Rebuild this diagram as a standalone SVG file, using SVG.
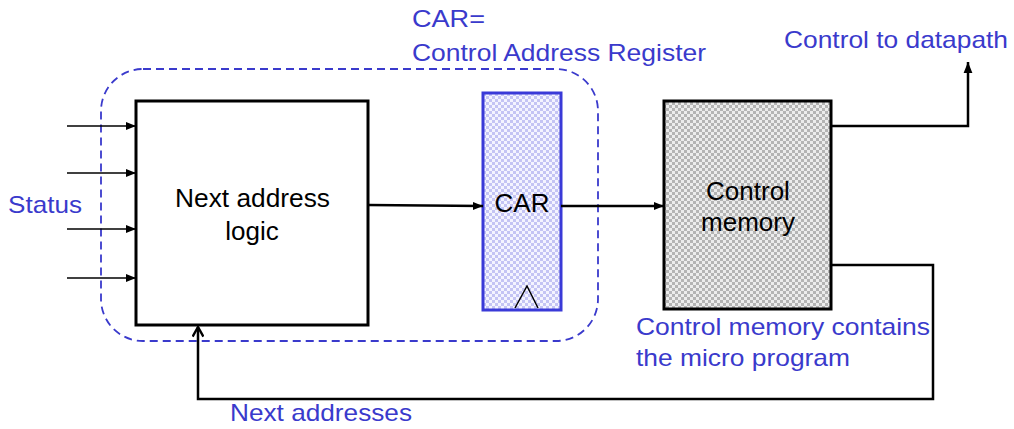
<svg xmlns="http://www.w3.org/2000/svg" width="1014" height="429" viewBox="0 0 1014 429">
  <defs>
    <style>
      .blue { font-family: "Liberation Sans", Arial, sans-serif; font-size: 24px; fill: #3a3acc; }
      .black { font-family: "Liberation Sans", Arial, sans-serif; font-size: 26px; fill: #000; }
      .box { stroke: #000; stroke-width: 3; }
      .wire { fill: none; stroke: #000; stroke-width: 2.5; }
      .thin { fill: none; stroke: #000; stroke-width: 1.5; }
    </style>
    <pattern id="checkBlue" width="6" height="6" patternUnits="userSpaceOnUse">
      <rect width="6" height="6" fill="#f4f4ff"/>
      <rect width="3" height="3" fill="#c4c4f4"/>
      <rect x="3" y="3" width="3" height="3" fill="#c4c4f4"/>
    </pattern>
    <pattern id="checkGray" width="6" height="6" patternUnits="userSpaceOnUse">
      <rect width="6" height="6" fill="#ececec"/>
      <rect width="3" height="3" fill="#b4b4b4"/>
      <rect x="3" y="3" width="3" height="3" fill="#b4b4b4"/>
    </pattern>
    <marker id="arrow" viewBox="0 0 10 10" refX="10" refY="5" markerWidth="10" markerHeight="10" markerUnits="userSpaceOnUse" orient="auto">
      <path d="M0,1 L10,5 L0,9 Z" fill="#000"/>
    </marker>
    <marker id="arrowBig" viewBox="0 0 10 10" refX="10" refY="5" markerWidth="11" markerHeight="11" markerUnits="userSpaceOnUse" orient="auto">
      <path d="M0,1 L10,5 L0,9 Z" fill="#000"/>
    </marker>
    <marker id="arrowOpen" viewBox="0 0 10 10" refX="9" refY="5" markerWidth="12" markerHeight="12" markerUnits="userSpaceOnUse" orient="auto">
      <path d="M1,0.5 L9,5 L1,9.5" fill="none" stroke="#000" stroke-width="2"/>
    </marker>
  </defs>

  <rect width="1014" height="429" fill="#fff"/>

  <!-- sequencer boundary -->
  <g id="sequencer">
    <rect x="101" y="69" width="497" height="272" rx="42" ry="42" fill="none" stroke="#3a3acc" stroke-width="1.8" stroke-dasharray="8,5"/>
    <text class="blue" x="193" y="134" textLength="123" lengthAdjust="spacingAndGlyphs">sequencer</text>
  </g>

  <!-- next address logic -->
  <g id="next-address-logic">
    <rect class="box" x="136" y="101" width="232" height="224" fill="#fff"/>
    <text class="black" x="175" y="207" textLength="155" lengthAdjust="spacingAndGlyphs">Next address</text>
    <text class="black" x="252" y="240" text-anchor="middle">logic</text>
  </g>

  <!-- control address register -->
  <g id="car">
    <rect x="483" y="93" width="78" height="217" fill="url(#checkBlue)" stroke="#3a3ad8" stroke-width="3"/>
    <polyline class="thin" points="515,308 527,286 538,308" stroke-width="2"/>
    <text class="black" x="522" y="212" text-anchor="middle">CAR</text>
  </g>

  <!-- control memory -->
  <g id="control-memory">
    <rect class="box" x="664" y="101" width="167" height="208" fill="url(#checkGray)"/>
    <text class="black" x="748" y="200" text-anchor="middle">Control</text>
    <text class="black" x="748" y="231" text-anchor="middle">memory</text>
  </g>

  <!-- connectors -->
  <g id="connectors">
    <line class="thin" x1="67" y1="126" x2="136" y2="126" marker-end="url(#arrow)"/>
    <line class="thin" x1="67" y1="173" x2="136" y2="173" marker-end="url(#arrow)"/>
    <line class="thin" x1="67" y1="229" x2="136" y2="229" marker-end="url(#arrow)"/>
    <line class="thin" x1="67" y1="278" x2="136" y2="278" marker-end="url(#arrow)"/>
    <line class="wire" x1="368" y1="205" x2="483" y2="206" stroke-width="2" marker-end="url(#arrow)"/>
    <line class="wire" x1="561" y1="206" x2="664" y2="206" stroke-width="2" marker-end="url(#arrow)"/>
    <polyline class="wire" points="831,126 968,126 968,62" marker-end="url(#arrowBig)"/>
    <polyline class="wire" points="831,265 933,265 933,399 198,399 198,327" marker-end="url(#arrowOpen)"/>
  </g>

  <!-- labels -->
  <g id="labels">
    <text class="blue" x="412" y="27" textLength="73" lengthAdjust="spacingAndGlyphs">CAR=</text>
    <text class="blue" x="412" y="61" textLength="294" lengthAdjust="spacingAndGlyphs">Control Address Register</text>
    <text class="blue" x="784" y="48" textLength="224" lengthAdjust="spacingAndGlyphs">Control to datapath</text>
    <text class="blue" x="8" y="213" textLength="74" lengthAdjust="spacingAndGlyphs">Status</text>
    <text class="blue" x="636" y="335" textLength="294" lengthAdjust="spacingAndGlyphs">Control memory contains</text>
    <text class="blue" x="636" y="366" textLength="214" lengthAdjust="spacingAndGlyphs">the micro program</text>
    <text class="blue" x="230" y="421" textLength="182" lengthAdjust="spacingAndGlyphs">Next addresses</text>
  </g>
</svg>
